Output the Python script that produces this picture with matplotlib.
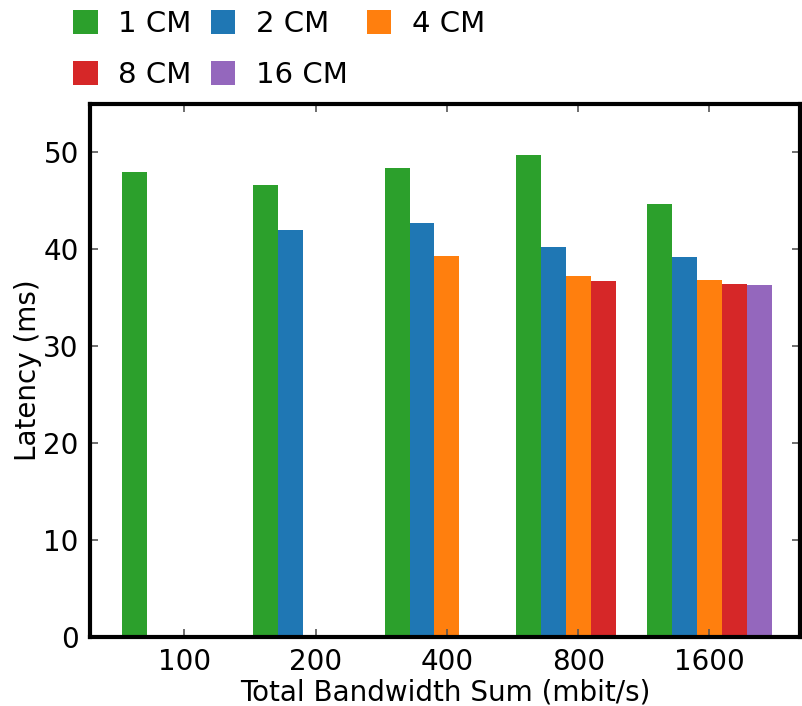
import numpy as np
import matplotlib
matplotlib.use('Agg')
import matplotlib.pyplot as plt

# 数据：每个 CM 数量对应的延迟 (ms)，缺失处为 nan
BANDWIDTHS = ['100', '200', '400', '800', '1600']
SERIES = ['1 CM', '2 CM', '4 CM', '8 CM', '16 CM']
LAT_1CM = [48.0, 46.6, 48.4, 49.7, 44.7]
LAT_2CM = [np.nan, 42.0, 42.7, 40.2, 39.2]
LAT_4CM = [np.nan, np.nan, 39.3, 37.3, 36.8]
LAT_8CM = [np.nan, np.nan, np.nan, 36.7, 36.4]
LAT_16CM = [np.nan, np.nan, np.nan, np.nan, 36.3]
COLORS = ['#2ca02c', '#1f77b4', '#ff7f0e', '#d62728', '#9467bd']

plt.rcParams['font.family'] = 'DejaVu Sans'
plt.rcParams['font.size'] = 20

fig = plt.figure(figsize=(8.02, 7.06), dpi=100)
ax = fig.add_axes([0.1122, 0.0977, 0.8853, 0.755])

x = np.arange(len(BANDWIDTHS))
width = 0.19
handles = []
for i, (name, vals, c) in enumerate(zip(SERIES, [LAT_1CM, LAT_2CM, LAT_4CM, LAT_8CM, LAT_16CM], COLORS)):
    b = ax.bar(x + (i - 2) * width, vals, width, color=c, label=name, linewidth=0)
    handles.append(b)

ax.set_xlim(-0.72, 4.69)
ax.set_ylim(0, 55)
ax.set_xticks(x)
ax.set_xticklabels(BANDWIDTHS)
ax.set_yticks([0, 10, 20, 30, 40, 50])
ax.set_xlabel('Total Bandwidth Sum (mbit/s)', labelpad=2)
ax.set_ylabel('Latency (ms)', labelpad=1)

ax.tick_params(direction='in', length=6, width=1.2, color='#555555',
               top=True, right=True, labelsize=20, pad=8)
for s in ax.spines.values():
    s.set_linewidth(3)
    s.set_color('black')

# 按列优先排序，使第一行为 1/2/4 CM
order = [0, 3, 1, 4, 2]
fig.legend([handles[k] for k in order], [SERIES[k] for k in order],
           ncol=3, frameon=False, loc='upper left',
           bbox_to_anchor=(73 / 802, 1 - 10 / 706), bbox_transform=fig.transFigure,
           borderpad=0, borderaxespad=0, handlelength=0.85, handleheight=0.9,
           handletextpad=0.7, columnspacing=0.65, labelspacing=0.78, fontsize=21)

fig.savefig('out.png', dpi=100, facecolor='white')
